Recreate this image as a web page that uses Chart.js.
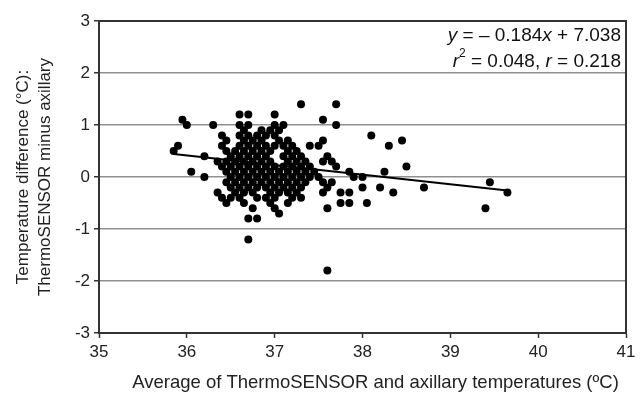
<!DOCTYPE html>
<html>
<head>
<meta charset="utf-8">
<script src="https://cdn.jsdelivr.net/npm/chart.js@4"></script>
<style>
  html, body { margin: 0; padding: 0; background: #fff; }
</style>
</head>
<body>
<canvas id="chart" width="644" height="399"></canvas>
<script>
// temperature difference levels (°C), one row of points per level
const diffLevels = [1.4, 1.2, 1.1, 1.0, 0.9, 0.8, 0.7, 0.6, 0.5, 0.4, 0.3, 0.2, 0.1, 0.0,
  -0.1, -0.2, -0.3, -0.4, -0.5, -0.6, -0.7, -0.8, -1.2, -1.8];

// average temperatures (°C) of the points on each level
const avgByLevel = [
  [37.3, 37.7],
  [36.6, 36.7, 37.0],
  [35.95, 37.55],
  [36.0, 36.3, 36.6, 36.7, 37.0, 37.1, 37.7],
  [36.65, 36.85, 36.95, 37.05],
  [36.4, 36.6, 36.7, 36.8, 36.9, 37.0, 38.1],
  [36.45, 36.65, 36.75, 36.85, 37.05, 37.15, 37.55, 38.45],
  [35.9, 36.4, 36.6, 36.7, 36.8, 36.9, 37.0, 37.1, 37.2, 37.4, 37.5, 38.3],
  [35.85, 36.45, 36.55, 36.65, 36.75, 36.85, 36.95, 37.15, 37.25],
  [36.2, 36.5, 36.6, 36.7, 36.8, 36.9, 37.1, 37.2, 37.3, 37.6],
  [36.35, 36.45, 36.55, 36.65, 36.75, 36.85, 36.95, 37.15, 37.25, 37.35, 37.55, 37.65],
  [36.4, 36.5, 36.6, 36.7, 36.8, 36.9, 37.0, 37.1, 37.2, 37.3, 37.4, 37.7, 38.5],
  [36.05, 36.45, 36.55, 36.65, 36.75, 36.85, 36.95, 37.05, 37.15, 37.25, 37.35, 37.45, 37.85, 38.25],
  [36.2, 36.5, 36.6, 36.7, 36.8, 36.9, 37.0, 37.1, 37.2, 37.3, 37.4, 37.5, 37.9, 38.0],
  [36.45, 36.55, 36.65, 36.75, 36.85, 36.95, 37.05, 37.15, 37.25, 37.35, 37.55, 37.65, 39.45],
  [36.5, 36.6, 36.7, 36.8, 36.9, 37.0, 37.1, 37.2, 37.3, 37.6, 38.0, 38.2, 38.7],
  [36.35, 36.55, 36.65, 36.75, 36.95, 37.05, 37.15, 37.25, 37.55, 37.75, 37.85, 38.35, 39.65],
  [36.4, 36.5, 36.6, 36.8, 36.9, 37.0, 37.2, 37.3],
  [36.45, 36.65, 36.95, 37.15, 37.75, 37.85, 38.05],
  [36.75, 37.0, 37.6, 39.4],
  [37.05],
  [36.7, 36.8],
  [36.7],
  [37.6]
];

// regression shown in the chart
const slope = -0.184;
const intercept = 7.038;
const rSquared = 0.048;
const rValue = 0.218;

const xTicks = [35, 36, 37, 38, 39, 40, 41];
const yTicks = [-3, -2, -1, 0, 1, 2, 3];

const xTitle = "Average of ThermoSENSOR and axillary temperatures (ºC)";
const yTitle = ["Temperature difference (°C):", "ThermoSENSOR minus axillary"];

const FONT = "'Liberation Sans', Arial, sans-serif";
Chart.defaults.font.family = FONT;
Chart.defaults.color = "#222";

// build scatter points
const points = [];
diffLevels.forEach((d, i) => {
  avgByLevel[i].forEach((a) => points.push({ x: a, y: d }));
});

const allX = points.map((p) => p.x);
const xMin = Math.min(...allX);
const xMax = Math.max(...allX);
const fitLine = [
  { x: xMin, y: slope * xMin + intercept },
  { x: xMax, y: slope * xMax + intercept },
];

// frame round the plot area
const framePlugin = {
  id: "frame",
  afterDatasetsDraw(chart) {
    const { ctx, chartArea: a } = chart;
    ctx.save();
    ctx.strokeStyle = "#333";
    ctx.lineWidth = 2;
    ctx.strokeRect(a.left, a.top, a.right - a.left, a.bottom - a.top);
    ctx.restore();
  },
};

// x axis title, sitting a little right of the plot centre like the original
const xTitlePlugin = {
  id: "xTitle",
  afterDraw(chart) {
    const { ctx, chartArea: a } = chart;
    ctx.save();
    ctx.font = "18.5px " + FONT;
    ctx.fillStyle = "#222";
    ctx.textAlign = "center";
    ctx.textBaseline = "middle";
    ctx.fillText(xTitle, (a.left + a.right) / 2 + 13, a.bottom + 50);
    ctx.restore();
  },
};

// regression equation, right aligned in the top corner
const equationPlugin = {
  id: "equation",
  afterDraw(chart) {
    const { ctx, chartArea: a } = chart;
    const sign = slope < 0 ? "– " : "";
    const lines = [
      [
        { t: "y", i: true },
        { t: " = " + sign + Math.abs(slope).toFixed(3) },
        { t: "x", i: true },
        { t: " + " + intercept.toFixed(3) },
      ],
      [
        { t: "r", i: true },
        { t: "2", sup: true },
        { t: " = " + rSquared.toFixed(3) + ", " },
        { t: "r", i: true },
        { t: " = " + rValue.toFixed(3) },
      ],
    ];
    const baseY = [a.top + 15, a.top + 41];
    ctx.save();
    ctx.fillStyle = "#111";
    ctx.textBaseline = "middle";
    lines.forEach((segs, li) => {
      const fontOf = (s) =>
        (s.i ? "italic " : "") + (s.sup ? "12px " : "19px ") + FONT;
      let total = 0;
      segs.forEach((s) => {
        ctx.font = fontOf(s);
        s.w = ctx.measureText(s.t).width;
        total += s.w;
      });
      let x = a.right - 5 - total;
      segs.forEach((s) => {
        ctx.font = fontOf(s);
        ctx.fillText(s.t, x, baseY[li] + (s.sup ? -8 : 0));
        x += s.w;
      });
    });
    ctx.restore();
  },
};

new Chart(document.getElementById("chart"), {
  type: "scatter",
  data: {
    datasets: [
      {
        label: "points",
        data: points,
        backgroundColor: "#000",
        borderWidth: 0,
        pointRadius: 4,
        pointHoverRadius: 4,
      },
      {
        type: "line",
        label: "fit",
        data: fitLine,
        borderColor: "#000",
        borderWidth: 2,
        pointRadius: 0,
        fill: false,
      },
    ],
  },
  options: {
    responsive: false,
    animation: false,
    layout: { padding: { top: 21, right: 18, left: 0, bottom: 0 } },
    plugins: {
      legend: { display: false },
      tooltip: { enabled: false },
    },
    scales: {
      x: {
        type: "linear",
        min: xTicks[0],
        max: xTicks[xTicks.length - 1],
        afterBuildTicks: (s) => { s.ticks = xTicks.map((v) => ({ value: v })); },
        afterFit: (s) => { s.height = 66; },
        grid: {
          drawOnChartArea: false,
          drawTicks: true,
          tickLength: 5,
          tickColor: "#333",
          tickWidth: 1.5,
        },
        border: { display: true, color: "#333", width: 2 },
        ticks: { font: { size: 17 }, padding: 4, color: "#222" },
        title: { display: false },
      },
      y: {
        type: "linear",
        min: yTicks[0],
        max: yTicks[yTicks.length - 1],
        afterBuildTicks: (s) => { s.ticks = yTicks.map((v) => ({ value: v })); },
        afterFit: (s) => { s.width = 99; },
        grid: {
          color: (c) => (Math.abs(c.tick.value) === 3 ? "rgba(0,0,0,0)" : "#8f8f8f"),
          lineWidth: 1.5,
          drawTicks: true,
          tickLength: 5,
          tickColor: "#333",
        },
        border: { display: true, color: "#333", width: 2 },
        ticks: { font: { size: 17 }, padding: 4, color: "#222" },
        title: {
          display: true,
          text: yTitle,
          font: { size: 17, lineHeight: 1.3 },
          color: "#222",
          padding: { top: 12, bottom: 0 },
        },
      },
    },
  },
  plugins: [framePlugin, xTitlePlugin, equationPlugin],
});
</script>
</body>
</html>
